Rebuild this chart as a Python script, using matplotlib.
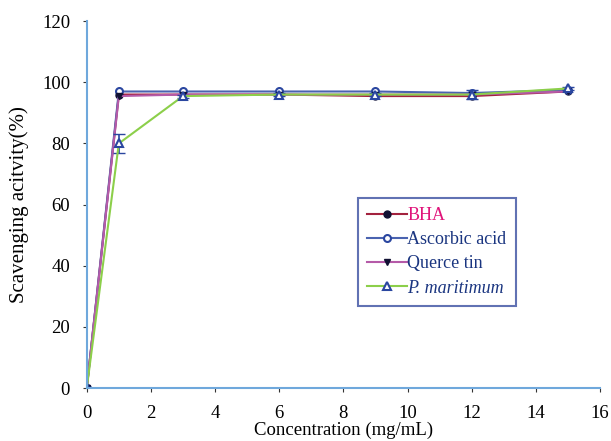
import matplotlib.pyplot as plt

plt.rcParams['font.family'] = ['Liberation Serif', 'DejaVu Serif']

conc = [0, 1, 3, 6, 9, 12, 15]
bha = [0, 96, 96, 96, 95.5, 95.5, 97]
ascorbic = [0, 97, 97, 97, 97, 96.5, 97.5]
quercetin = [0, 95.5, 96, 96, 96, 96, 97]
maritimum = [0, 80, 95.5, 96, 96, 96, 98]
maritimum_err = [0, 3, 0.5, 0.5, 0.5, 1.5, 0.5]

fig = plt.figure(figsize=(6.11, 4.41), dpi=100)
ax = fig.add_axes([0.142, 0.12, 0.84, 0.832])

ax.plot(conc, bha, color='#a3223e', lw=1.5, marker='o', ms=5,
        mfc='#111133', mec='#111133', label='BHA')
ax.plot(conc, ascorbic, color='#4a63b0', lw=1.5, marker='o', ms=5,
        mfc='white', mec='#2a46a0', mew=1.5, label='Ascorbic acid')
ax.plot(conc, quercetin, color='#b55aa8', lw=1.5, marker='v', ms=5,
        mfc='#111133', mec='#111133', label='Querce tin')
ax.errorbar(conc, maritimum, yerr=maritimum_err, fmt='none',
            ecolor='#2a46a0', elinewidth=1.2, capsize=4)
ax.plot(conc, maritimum, color='#8ccf4a', lw=1.5, marker='^', ms=6,
        mfc='white', mec='#2a46a0', mew=1.5, label='P. maritimum')

ax.set_xlim(0, 16)
ax.set_ylim(0, 120)
ax.set_xticks(range(0, 17, 2))
ax.set_yticks(range(0, 121, 20))
for s in ['top', 'right']:
    ax.spines[s].set_visible(False)
for s in ['left', 'bottom']:
    ax.spines[s].set_color('#6fa8dc')
    ax.spines[s].set_linewidth(1.5)
ax.tick_params(direction='out', length=3, color='#333333', labelsize=13.5, pad=9)
ax.set_xlabel('Concentration (mg/mL)', fontsize=13.5, labelpad=0)
ax.set_ylabel('Scavenging acitvity(%)', fontsize=15, labelpad=9)

leg = ax.legend(loc='upper left', bbox_to_anchor=(0.528, 0.518), borderaxespad=0,
                fontsize=13, frameon=True, fancybox=False, handlelength=2.2,
                handletextpad=0.05, labelspacing=0.4, borderpad=0.5)
leg.get_frame().set_edgecolor('#3a4fa0')
leg.get_frame().set_linewidth(1.5)
txt = leg.get_texts()
txt[0].set_color('#e0147a')
for t in txt[1:]:
    t.set_color('#1a3580')
txt[3].set_style('italic')

fig.savefig('out.png', dpi=100)
